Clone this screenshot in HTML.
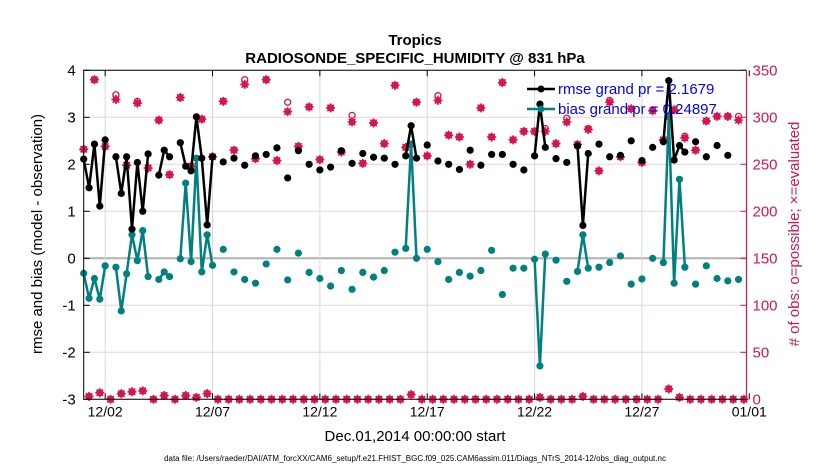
<!DOCTYPE html>
<html><head><meta charset="utf-8"><style>
body{margin:0;background:#fff;}
svg{display:block;font-family:"Liberation Sans",Arial,sans-serif;}
</style></head><body>
<svg id="chart" width="830" height="470" viewBox="0 0 830 470">
<text x="415" y="45" text-anchor="middle" font-size="15" font-weight="bold">Tropics</text>
<text x="415" y="63" text-anchor="middle" font-size="15" font-weight="bold">RADIOSONDE_SPECIFIC_HUMIDITY @ 831 hPa</text>
<g id="grid"></g><g id="marks"></g><g id="axes"></g>
<text transform="translate(42,234) rotate(-90)" text-anchor="middle" font-size="15">rmse and bias (model - observation)</text>
<text transform="translate(799,234) rotate(-90)" text-anchor="middle" font-size="15" fill="#d6154f"># of obs: o=possible; ×=evaluated</text>
<text x="415" y="441" text-anchor="middle" font-size="15">Dec.01,2014 00:00:00 start</text>
<text x="415" y="461" text-anchor="middle" font-size="8">data file: /Users/raeder/DAI/ATM_forcXX/CAM6_setup/f.e21.FHIST_BGC.f09_025.CAM6assim.011/Diags_NTrS_2014-12/obs_diag_output.nc</text>
<g>
<line x1="527" y1="89" x2="555" y2="89" stroke="#000" stroke-width="2.5"/>
<circle cx="541" cy="89" r="3.5" fill="#000"/>
<text x="558" y="94" font-size="15" fill="#0000ff">rmse grand pr = 2.1679</text>
<line x1="527" y1="109" x2="555" y2="109" stroke="#008080" stroke-width="2.5"/>
<circle cx="541" cy="109" r="3.5" fill="#008080"/>
<text x="558" y="114" font-size="15" fill="#0000ff">bias grand pr = 0.24897</text>
</g>
</svg>
<script>
const N=null;
const xTickLabels=["12/02","12/07","12/12","12/17","12/22","12/27","01/01"];
const xTickDays=[1,6,11,16,21,26,31];
const leftTicks=[4,3,2,1,0,-1,-2,-3];
const rightTicks=[0,50,100,150,200,250,300,350];
const rmse=[2.11,1.50,2.43,1.11,2.52,N,2.16,1.38,2.16,0.62,
2.04,1.00,2.22,N,1.77,2.30,2.16,N,2.46,1.96,
1.86,3.01,2.13,0.71,2.16,N,2.05,N,2.13,N,
1.98,N,2.18,N,2.21,N,2.35,N,1.71,N,
2.29,N,2.00,N,1.88,N,1.94,N,2.29,N,
2.02,N,2.23,N,2.15,N,2.13,N,2.00,N,
2.18,2.82,2.13,N,2.41,N,2.07,N,2.00,N,
1.89,N,2.30,N,1.98,N,2.21,N,2.21,N,
2.00,N,1.88,N,2.18,3.28,2.36,N,2.12,N,
2.04,N,2.39,0.70,2.23,N,2.43,N,2.16,N,
2.19,N,2.50,N,2.08,N,2.36,N,2.48,3.78,
2.09,2.40,2.26,N,2.48,N,2.16,N,2.40,N,
2.19,N,N,N];
const bias=[-0.32,-0.85,-0.43,-0.87,-0.16,N,-0.19,-1.12,-0.33,0.50,
-0.05,0.59,-0.39,N,-0.45,-0.29,-0.39,N,-0.01,1.60,
-0.07,2.13,-0.29,0.50,-0.15,N,0.19,N,-0.29,N,
-0.45,N,-0.53,N,-0.12,N,0.19,N,-0.46,N,
0.11,N,-0.30,N,-0.43,N,-0.59,N,-0.26,N,
-0.66,N,-0.30,N,-0.40,N,-0.26,N,0.13,N,
0.21,2.43,0.00,N,0.19,N,-0.07,N,-0.45,N,
-0.30,N,-0.38,N,-0.26,N,0.17,N,-0.77,N,
-0.21,N,-0.21,N,-0.02,-2.29,0.09,N,-0.04,N,
-0.49,N,-0.28,0.50,-0.21,N,-0.19,N,-0.09,N,
0.05,N,-0.55,N,-0.44,N,0.00,N,-0.09,3.01,
-0.53,1.68,-0.19,N,-0.55,N,-0.16,N,-0.43,N,
-0.48,N,-0.45,N];
const evaluated=[266,3,340,7,269,0,319,6,249,8,
315,9,246,0,297,4,239,0,321,4,
248,2,298,6,258,0,317,0,265,0,
335,0,256,0,340,0,254,0,306,0,
269,0,311,0,255,0,310,0,263,0,
295,0,251,0,294,0,272,0,334,0,
268,5,316,0,259,0,318,0,281,0,
279,0,250,0,310,0,279,0,337,0,
276,0,285,0,285,2,285,0,272,0,
295,0,271,3,287,0,243,0,316,0,
258,0,309,0,252,0,307,0,276,11,
308,2,278,0,265,0,296,0,301,0,
301,0,297,0];
const possible=[266,3,340,7,269,0,324,6,249,8,
317,9,246,0,297,4,239,0,321,4,
248,2,298,6,258,0,317,0,265,0,
340,0,256,0,340,0,254,0,316,0,
269,0,311,0,255,0,310,0,263,0,
302,0,251,0,294,0,272,0,334,0,
268,5,316,0,259,0,323,0,281,0,
279,0,250,0,310,0,279,0,337,0,
276,0,285,0,285,2,288,0,272,0,
299,0,271,3,288,0,243,0,318,0,
258,0,309,0,252,0,307,0,276,11,
308,2,280,0,265,0,296,0,301,0,
301,0,301,0];

const L=83.7,R=746.5,T=70.3,B=399.3,DAYPX=21.47;
const xDay=d=>L+d*DAYPX;
const xIdx=i=>xDay(i*0.25);
const yL=v=>T+(4-v)*(B-T)/7;
const yR=c=>B-c*(B-T)/350;
const NS="http://www.w3.org/2000/svg";
function mk(tag,parent,attrs){const e=document.createElementNS(NS,tag);for(const k in attrs)e.setAttribute(k,attrs[k]);parent.appendChild(e);return e;}
const grid=document.getElementById('grid'),marks=document.getElementById('marks'),axes=document.getElementById('axes');
const RED="#d6154f";

leftTicks.forEach(v=>{
  const y=yL(v);
  const g=mk('line',grid,{x1:L,x2:R,y1:y,y2:y,stroke:v===0?'#b0b0b0':'#f2cfdc','stroke-width':v===0?2:1});
  
  
  const t=mk('line',axes,{x1:L,x2:L+6,y1:y,y2:y,stroke:'#000'});
  
  
  const lb=mk('text',axes,{x:L-8,y:y+5,'text-anchor':'end','font-size':15});
  lb.textContent=v;
  
  
});
rightTicks.forEach(c=>{
  const y=yR(c);
  const t=mk('line',axes,{x1:R-6,x2:R,y1:y,y2:y,stroke:RED});
  
  
  const lb=mk('text',axes,{x:R+6,y:y+5,'font-size':15,fill:RED});
  lb.textContent=c;
  
  
});
xTickDays.forEach((d,i)=>{
  const x=xDay(d);
  if(x<R-1){
    const g=mk('line',grid,{x1:x,x2:x,y1:T,y2:B,stroke:'#d8d8d8'});
    
    
  }
  const t=mk('line',axes,{x1:x,x2:x,y1:B,y2:B-6,stroke:'#000'});
  
  
  const t2=mk('line',axes,{x1:x,x2:x,y1:T,y2:T+6,stroke:'#000'});
  
  
  const lb=mk('text',axes,{x:x,y:B+17,'text-anchor':'middle','font-size':14});
  lb.textContent=xTickLabels[i];
  
  
});
const ax1=mk('path',axes,{d:`M${R},${T}H${L}V${B}H${R}`,fill:'none',stroke:'#000','stroke-width':1});


const ax2=mk('line',axes,{x1:R,x2:R,y1:T,y2:B,stroke:RED,'stroke-width':1.2});



// obs counts
possible.forEach((c,i)=>{
  if(c==null)return;
  const e=mk('circle',marks,{cx:xIdx(i),cy:yR(c),r:3,fill:'none',stroke:RED,'stroke-width':1.3});
  
  
});
evaluated.forEach((c,i)=>{
  if(c==null)return;
  const x=xIdx(i),y=yR(c),s=4.5,d=3.2;
  const g=mk('g',marks,{});
  
  
  mk('circle',g,{cx:x,cy:y,r:3.3,fill:RED});
  mk('path',g,{d:`M${x-s},${y}H${x+s}M${x},${y-s}V${y+s}M${x-d},${y-d}L${x+d},${y+d}M${x-d},${y+d}L${x+d},${y-d}`,stroke:RED,'stroke-width':1.6});
});

function series(arr,color,name){
  let d='',prev=false;
  arr.forEach((v,i)=>{
    if(v==null){prev=false;return;}
    d+=(prev?'L':'M')+xIdx(i).toFixed(1)+','+yL(v).toFixed(1);
    prev=true;
  });
  const p=mk('path',marks,{d:d,fill:'none',stroke:color,'stroke-width':2.5,'stroke-linejoin':'round'});
  
  
  arr.forEach((v,i)=>{
    if(v==null)return;
    const c=mk('circle',marks,{cx:xIdx(i),cy:yL(v),r:3.6,fill:color});
    
    
  });
}
series(bias,'#008080','bias');
series(rmse,'#000000','rmse');
</script>
</body></html>
